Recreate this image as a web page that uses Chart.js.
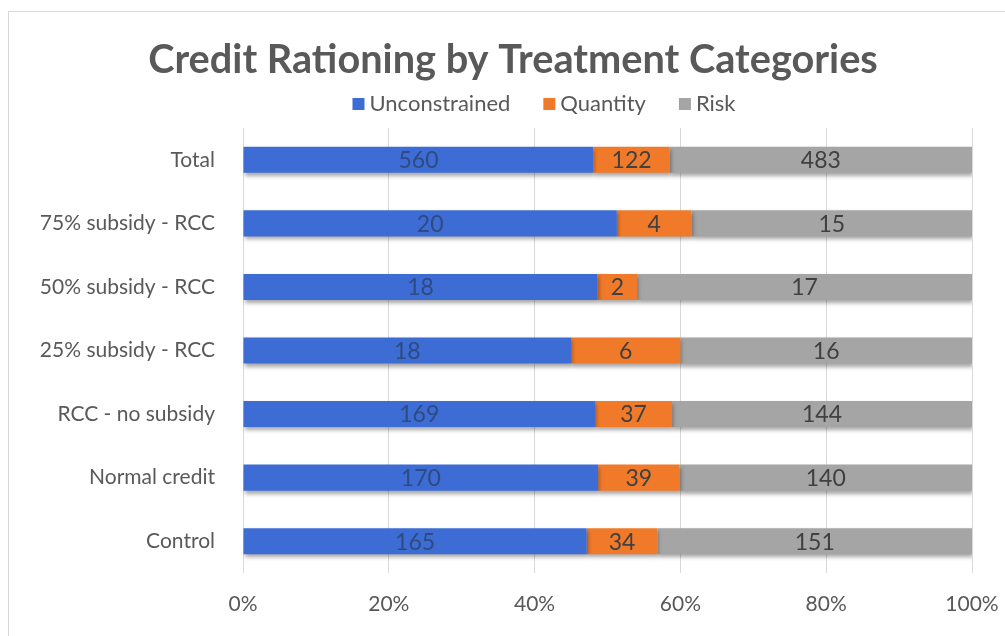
<!DOCTYPE html>
<html>
<head>
<meta charset="utf-8">
<script src="https://cdn.jsdelivr.net/npm/chart.js@4.4.0/dist/chart.umd.min.js"></script>
<style>
html,body{margin:0;padding:0;background:#fff;width:1005px;height:636px;overflow:hidden;}
#frame{position:absolute;left:8px;top:11px;width:1010px;height:640px;border:1px solid #d9d9d9;box-sizing:border-box;}
#wrap{position:absolute;left:0;top:0;width:1005px;height:636px;}
</style>
</head>
<body>
<div id="frame"></div>
<div id="wrap"><canvas id="c" width="1005" height="636"></canvas></div>
<script>
const chartTitle = "Credit Rationing by Treatment Categories";
const categories = ["Total", "75% subsidy - RCC", "50% subsidy - RCC", "25% subsidy - RCC", "RCC - no subsidy", "Normal credit", "Control"];
const unconstrained = [560, 20, 18, 18, 169, 170, 165];
const quantity = [122, 4, 2, 6, 37, 39, 34];
const risk = [483, 15, 17, 16, 144, 140, 151];
const seriesNames = ["Unconstrained", "Quantity", "Risk"];
const xTicks = ["0%", "20%", "40%", "60%", "80%", "100%"];

const totals = categories.map((_, i) => unconstrained[i] + quantity[i] + risk[i]);
const pct = arr => arr.map((v, i) => v / totals[i] * 100);
const counts = [unconstrained, quantity, risk];
const colors = ["#3D6CD4", "#F07A2A", "#A5A5A5"];
const labelColors = ["#2E4A80", "#404040", "#404040"];
const FONT = "Lato, 'Open Sans', sans-serif";

const shadowPlugin = {
  id: 'shadow',
  beforeDatasetsDraw(chart) {
    const ctx = chart.ctx;
    ctx.save();
    ctx.shadowColor = 'rgba(0,0,0,0.35)';
    ctx.shadowBlur = 4;
    ctx.shadowOffsetX = 1;
    ctx.shadowOffsetY = 3;
  },
  afterDatasetsDraw(chart) {
    chart.ctx.restore();
  }
};

const labelPlugin = {
  id: 'labels',
  afterDatasetsDraw(chart) {
    const ctx = chart.ctx;
    ctx.save();
    ctx.font = "23px " + FONT;
    ctx.textAlign = "center";
    ctx.textBaseline = "middle";
    chart.data.datasets.forEach((ds, di) => {
      const meta = chart.getDatasetMeta(di);
      ctx.fillStyle = labelColors[di];
      meta.data.forEach((el, i) => {
        const x = (el.x + el.base) / 2;
        ctx.fillText(String(counts[di][i]), x, el.y + 1);
      });
    });
    ctx.restore();
  }
};

const headerPlugin = {
  id: 'header',
  afterDraw(chart) {
    const ctx = chart.ctx;
    ctx.save();
    // title
    ctx.font = "bold 39.7px " + FONT;
    ctx.fillStyle = "#595959";
    ctx.textAlign = "center";
    ctx.textBaseline = "middle";
    ctx.fillText(chartTitle, 513, 60);
    // legend
    ctx.font = "22px " + FONT;
    ctx.textAlign = "left";
    const box = 12, gap = 5, itemGap = 33, cy = 104, centerX = 544;
    const items = chart.data.datasets.map(ds => ({ text: ds.label, color: ds.backgroundColor, w: ctx.measureText(ds.label).width }));
    let total = 0;
    items.forEach((it, i) => { total += box + gap + it.w + (i < items.length - 1 ? itemGap : 0); });
    let x = centerX - total / 2;
    items.forEach(it => {
      ctx.fillStyle = it.color;
      ctx.fillRect(x, cy - box / 2, box, box);
      x += box + gap;
      ctx.fillStyle = "#595959";
      ctx.fillText(it.text, x, cy);
      x += it.w + itemGap;
    });
    ctx.restore();
  }
};

new Chart(document.getElementById('c'), {
  type: 'bar',
  data: {
    labels: categories,
    datasets: seriesNames.map((n, k) => ({
      label: n,
      data: pct(counts[k]),
      backgroundColor: colors[k],
      borderWidth: 0,
      barPercentage: 0.41,
      categoryPercentage: 1.0
    }))
  },
  options: {
    indexAxis: 'y',
    responsive: false,
    animation: false,
    devicePixelRatio: 1,
    layout: { padding: { top: 128, right: 33, bottom: 0, left: 0 } },
    plugins: {
      title: { display: false },
      legend: { display: false },
      tooltip: { enabled: false }
    },
    scales: {
      x: {
        stacked: true,
        min: 0,
        max: 100,
        afterFit: s => { s.height = 63; s.paddingLeft = 0; s.paddingRight = 0; },
        afterBuildTicks: s => { s.ticks = xTicks.map((t, i) => ({ value: i * 20 })); },
        ticks: {
          callback: (v, i) => xTicks[i],
          color: "#595959",
          font: { family: FONT, size: 21 },
          padding: 19,
          maxRotation: 0
        },
        grid: { color: "#d9d9d9", drawTicks: false },
        border: { display: false }
      },
      y: {
        stacked: true,
        afterFit: s => { s.width = 243; s.paddingTop = 0; s.paddingBottom = 0; },
        ticks: {
          color: "#595959",
          font: { family: FONT, size: 21 },
          padding: 28
        },
        grid: { display: false, drawTicks: false },
        border: { display: false }
      }
    }
  },
  plugins: [shadowPlugin, labelPlugin, headerPlugin]
});
</script>
</body>
</html>
